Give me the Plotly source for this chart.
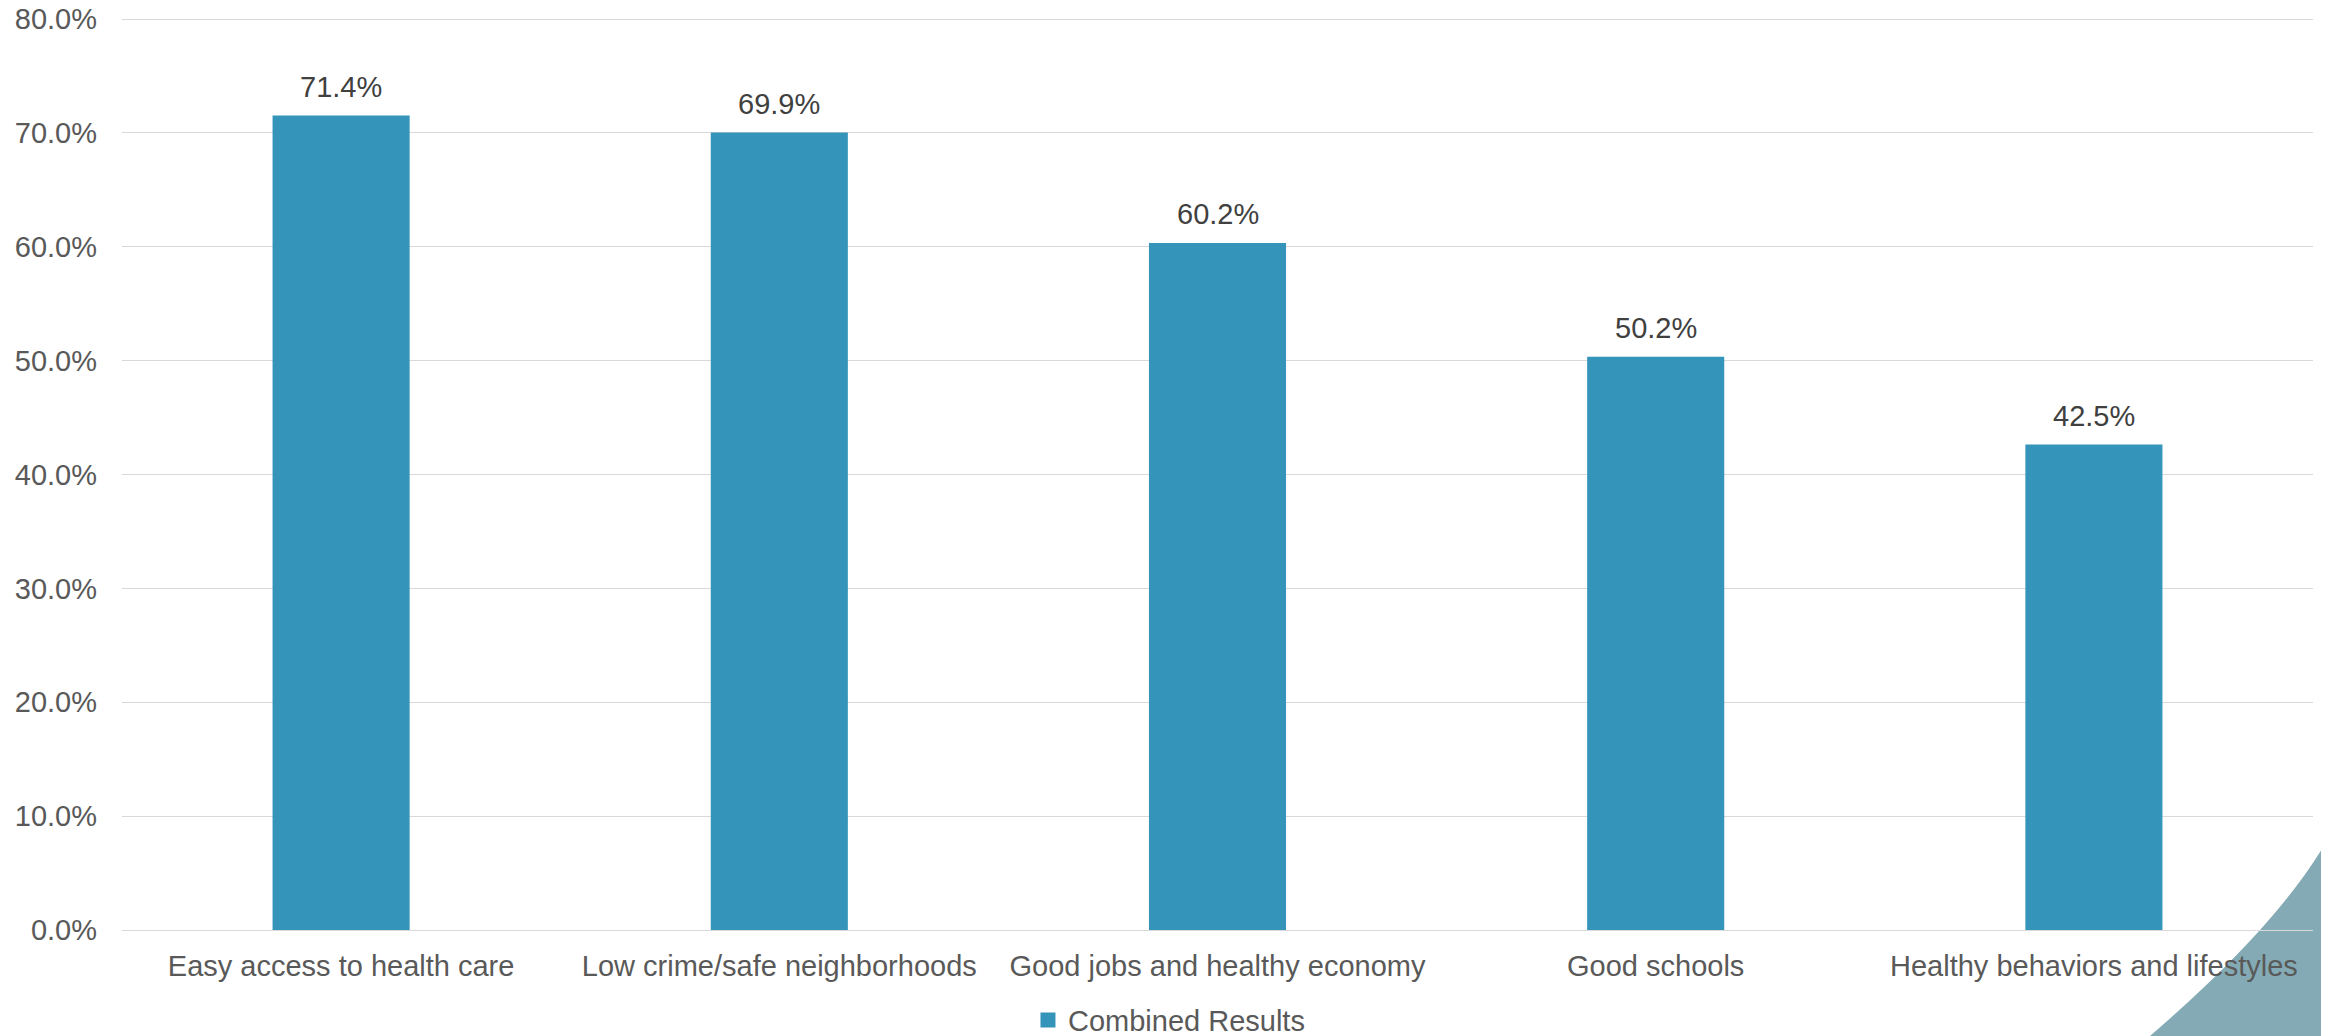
import plotly.graph_objects as go

categories = [
    "Easy access to health care",
    "Low crime/safe neighborhoods",
    "Good jobs and healthy economy",
    "Good schools",
    "Healthy behaviors and lifestyles",
]
values = [0.714, 0.699, 0.602, 0.502, 0.425]
series_name = "Combined Results"
y_ticks = [0.0, 0.1, 0.2, 0.3, 0.4, 0.5, 0.6, 0.7, 0.8]

BAR_COLOR = "#3594BA"
GRID_COLOR = "#D9D9D9"
TICK_COLOR = "#595959"
LABEL_COLOR = "#404040"
FONT = "Liberation Sans, Arial, sans-serif"

# the page body adds an 8px margin; the figure is sized/offset to compensate
fig = go.Figure()
fig.add_trace(go.Bar(
    x=categories,
    y=values,
    name=series_name,
    marker=dict(color=BAR_COLOR, line=dict(width=3, color=BAR_COLOR)),
    width=0.306,
    showlegend=True,
))

for c, v in zip(categories, values):
    fig.add_annotation(
        x=c, y=v, xref="x", yref="y",
        text=f"{v*100:.1f}%",
        showarrow=False,
        yanchor="bottom",
        yshift=12,
        font=dict(family=FONT, size=29, color=LABEL_COLOR),
    )

# plot area: 913 px tall for range 0..0.80176 (0.8 sits 2px below top)
# decorative corner shape (paper coords, plot-area relative)
fig.add_shape(
    type="path",
    xref="paper", yref="paper",
    path="M 0.9256 -0.1161 Q 0.98517 0.00712 1.0073 0.10186 L 1.02 0.13 L 1.02 -0.14 L 0.90 -0.14 Z",
    fillcolor="#84ABB5",
    line=dict(width=0),
    layer="below",
)

fig.update_layout(
    width=2321,
    height=1028,
    margin=dict(l=114, r=16, t=9, b=106, autoexpand=False),
    paper_bgcolor="white",
    plot_bgcolor="rgba(0,0,0,0)",
    font=dict(family=FONT, size=29, color=TICK_COLOR),
    showlegend=True,
    legend=dict(
        orientation="h",
        x=0.4135, xanchor="left",
        y=-0.0988, yanchor="middle",
        font=dict(family=FONT, size=29, color=TICK_COLOR),
        bgcolor="rgba(0,0,0,0)",
    ),
    xaxis=dict(
        showgrid=False,
        showline=False,
        zeroline=False,
        ticks="",
        automargin=False,
        ticklabelstandoff=16,
        tickfont=dict(family=FONT, size=29, color=TICK_COLOR),
    ),
    yaxis=dict(
        range=[0, 0.80176],
        tickvals=y_ticks,
        tickformat=".1%",
        showgrid=True,
        gridcolor=GRID_COLOR,
        gridwidth=1.3,
        zeroline=True,
        zerolinecolor=GRID_COLOR,
        zerolinewidth=1.3,
        showline=False,
        ticks="",
        automargin=False,
        ticklabeloverflow="allow",
        ticklabelstandoff=24,
        tickfont=dict(family=FONT, size=29, color=TICK_COLOR),
    ),
)

fig.write_html("out.html")
